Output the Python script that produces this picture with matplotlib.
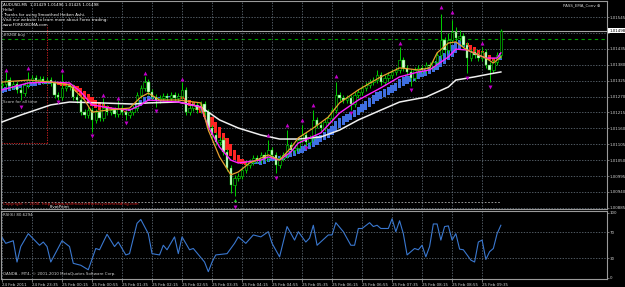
import numpy as np
import matplotlib
matplotlib.use("Agg")
import matplotlib.pyplot as plt

# AUDUSD M5 quotes in points above 1.00000 (1313 -> 1.01313)
open_pts = [1310, 1313, 1327, 1306, 1313, 1293, 1282, 1310, 1327, 1334,
            1327, 1331, 1324, 1327, 1317, 1275, 1268, 1300, 1306, 1303,
            1268, 1258, 1216, 1206, 1223, 1189, 1216, 1196, 1230, 1216,
            1223, 1210, 1230, 1216, 1206, 1216, 1230, 1275, 1300, 1320,
            1286, 1268, 1258, 1265, 1272, 1265, 1275, 1265, 1272, 1293,
            1216, 1230, 1241, 1223, 1244, 1216, 1161, 1137, 1113, 1120,
            1078, 1023, 964, 988, 995, 1016, 1033, 1043, 1057, 1050,
            1068, 1057, 1085, 1068, 1033, 1057, 1068, 1102, 1085, 1092,
            1120, 1137, 1113, 1127, 1189, 1172, 1161, 1182, 1196, 1223,
            1275, 1265, 1258, 1265, 1244, 1275, 1286, 1300, 1310, 1320,
            1327, 1345, 1320, 1334, 1345, 1355, 1362, 1396, 1369, 1355,
            1334, 1362, 1369, 1362, 1379, 1376, 1389, 1414, 1466, 1431,
            1466, 1493, 1473, 1479, 1448, 1403, 1424, 1414, 1403, 1424,
            1379, 1362, 1389, 1414]
close_pts = [1313, 1327, 1306, 1313, 1293, 1282, 1310, 1327, 1334, 1327,
             1331, 1324, 1327, 1317, 1275, 1268, 1300, 1306, 1303, 1268,
             1258, 1216, 1206, 1223, 1189, 1216, 1196, 1230, 1216, 1223,
             1210, 1230, 1216, 1206, 1216, 1230, 1275, 1300, 1320, 1286,
             1268, 1258, 1265, 1272, 1265, 1275, 1265, 1272, 1293, 1216,
             1230, 1241, 1223, 1244, 1216, 1161, 1137, 1113, 1120, 1078,
             1023, 964, 988, 995, 1016, 1033, 1043, 1057, 1050, 1068,
             1057, 1085, 1068, 1033, 1057, 1068, 1102, 1085, 1092, 1120,
             1137, 1113, 1127, 1189, 1172, 1161, 1182, 1196, 1223, 1275,
             1265, 1258, 1265, 1244, 1275, 1286, 1300, 1310, 1320, 1327,
             1345, 1320, 1334, 1345, 1355, 1362, 1396, 1369, 1355, 1334,
             1362, 1369, 1362, 1379, 1376, 1389, 1414, 1466, 1431, 1466,
             1493, 1473, 1479, 1448, 1403, 1424, 1414, 1403, 1424, 1379,
             1362, 1389, 1414, 1498]
high_pts = [1323, 1355, 1337, 1323, 1323, 1303, 1320, 1355, 1344, 1344,
            1341, 1341, 1337, 1337, 1327, 1285, 1348, 1316, 1316, 1313,
            1278, 1268, 1226, 1233, 1233, 1226, 1226, 1265, 1240, 1233,
            1233, 1258, 1240, 1226, 1226, 1240, 1285, 1310, 1341, 1330,
            1296, 1278, 1275, 1282, 1282, 1285, 1285, 1282, 1320, 1303,
            1240, 1251, 1251, 1254, 1254, 1226, 1171, 1147, 1130, 1130,
            1088, 1033, 998, 1005, 1026, 1043, 1053, 1067, 1067, 1078,
            1078, 1120, 1095, 1078, 1067, 1078, 1154, 1112, 1102, 1130,
            1172, 1147, 1137, 1223, 1199, 1182, 1192, 1206, 1233, 1320,
            1285, 1275, 1275, 1275, 1285, 1296, 1310, 1320, 1330, 1337,
            1362, 1355, 1344, 1355, 1365, 1372, 1441, 1406, 1379, 1365,
            1372, 1379, 1379, 1389, 1389, 1399, 1424, 1556, 1476, 1490,
            1535, 1510, 1500, 1489, 1458, 1434, 1434, 1424, 1441, 1434,
            1389, 1399, 1424, 1505]
low_pts = [1300, 1303, 1296, 1296, 1283, 1258, 1272, 1300, 1317, 1317,
           1317, 1314, 1314, 1307, 1265, 1258, 1258, 1290, 1293, 1258,
           1248, 1206, 1196, 1196, 1147, 1179, 1186, 1186, 1206, 1206,
           1200, 1200, 1206, 1189, 1196, 1206, 1220, 1265, 1290, 1276,
           1258, 1234, 1248, 1255, 1255, 1255, 1255, 1255, 1262, 1206,
           1206, 1220, 1213, 1213, 1206, 1151, 1127, 1103, 1103, 1068,
           1013, 936, 926, 978, 985, 1006, 1023, 1033, 1040, 1040,
           1047, 1047, 1058, 1005, 1023, 1047, 1058, 1075, 1075, 1082,
           1110, 1099, 1103, 1117, 1162, 1151, 1151, 1172, 1186, 1213,
           1255, 1248, 1248, 1223, 1234, 1265, 1276, 1290, 1300, 1310,
           1317, 1310, 1310, 1324, 1335, 1345, 1352, 1359, 1345, 1306,
           1324, 1352, 1352, 1352, 1366, 1366, 1379, 1404, 1421, 1421,
           1456, 1463, 1463, 1438, 1351, 1393, 1404, 1393, 1393, 1369,
           1320, 1352, 1379, 1404]

# smoothed heiken ashi open / close
ha_open = [1283, 1286, 1290, 1293,
           1296, 1298, 1300, 1303, 1306, 1308, 1310, 1312, 1313, 1314,
           1322, 1320, 1318, 1316, 1314, 1310, 1306, 1300, 1290, 1280, 1270, 1258, 1250,
           1243, 1238, 1233, 1230, 1226, 1224, 1221, 1219,
           1222, 1228, 1236, 1246, 1255, 1260, 1264, 1266, 1267, 1268, 1268, 1269, 1270,
           1272, 1265, 1258, 1250, 1242, 1235, 1226, 1216, 1200, 1183, 1165, 1145, 1125,
           1105, 1085, 1068, 1055, 1046, 1040,
           1036, 1038,
           1033, 1038, 1042, 1046, 1048, 1050, 1052, 1056, 1060, 1064, 1070, 1076, 1082,
           1088, 1095, 1104, 1112, 1120, 1128, 1138, 1150, 1162, 1172, 1182, 1190, 1198,
           1206, 1215, 1225, 1235, 1245, 1255, 1262, 1268, 1275, 1282, 1290, 1298, 1306,
           1314, 1320, 1325, 1330, 1336, 1342, 1348, 1354, 1362, 1372, 1384, 1396, 1408,
           1420, 1430, 1442,
           1456, 1448, 1440, 1432, 1426, 1420, 1412, 1405, 1400, 1398]
ha_close = [1300, 1303, 1306, 1308,
            1310, 1310, 1313, 1317, 1320, 1320, 1322, 1322, 1323, 1322,
            1315, 1310, 1308, 1306, 1303, 1296, 1286, 1272, 1260, 1250, 1236, 1230, 1225,
            1230, 1228, 1226, 1224, 1222, 1220, 1218, 1226,
            1232, 1245, 1258, 1268, 1272, 1270, 1270, 1270, 1270, 1271, 1272, 1271, 1273,
            1262, 1245, 1238, 1230, 1222, 1212, 1200, 1182, 1165, 1145, 1125, 1105, 1085,
            1065, 1050, 1040, 1036, 1033, 1032,
            1040, 1044,
            1057, 1058, 1062, 1064, 1062, 1064, 1068, 1075, 1080, 1085, 1092, 1100, 1104,
            1110, 1125, 1132, 1138, 1146, 1156, 1168, 1185, 1196, 1203, 1210, 1215, 1225,
            1235, 1245, 1256, 1266, 1275, 1285, 1290, 1296, 1303, 1310, 1318, 1330, 1336,
            1340, 1342, 1348, 1355, 1360, 1366, 1372, 1380, 1392, 1410, 1422, 1434, 1448,
            1458, 1466, 1470,
            1440, 1430, 1424, 1416, 1412, 1404, 1396, 1394, 1395, 1420]

# moving averages, read at sample bars
white_bar = [0, 5, 13, 18, 26, 35, 39, 47, 53, 58, 63, 69, 74, 79, 85, 90, 95,
             101, 106, 113, 119, 121, 126, 130, 133]
white_ma = [1182, 1206, 1241, 1251, 1248, 1244, 1248, 1251, 1234, 1189, 1161,
            1137, 1123, 1123, 1130, 1154, 1189, 1223, 1251, 1268, 1303, 1327,
            1338, 1348, 1355]
magenta_bar = [0, 7, 13, 18, 21, 24, 29, 34, 37, 39, 47, 53, 55, 58, 61, 63, 69,
               71, 74, 77, 79, 85, 90, 95, 101, 106, 111, 114, 119, 121, 124,
               127, 129, 132, 133]
magenta_ma = [1293, 1317, 1320, 1317, 1286, 1241, 1230, 1223, 1241, 1258, 1251,
              1234, 1165, 1095, 1050, 1040, 1050, 1061, 1050, 1078, 1109, 1144,
              1213, 1258, 1300, 1338, 1355, 1362, 1407, 1434, 1431, 1414, 1403,
              1403, 1421]
orange_bar = [0, 7, 13, 18, 22, 24, 28, 34, 37, 39, 42, 47, 53, 55, 58, 61, 63,
              66, 71, 74, 77, 79, 83, 87, 90, 95, 101, 106, 111, 114, 116, 119,
              121, 124, 127, 129, 131, 133]
orange_ma = [1320, 1327, 1320, 1310, 1258, 1216, 1223, 1230, 1268, 1282, 1258,
             1258, 1248, 1154, 1061, 999, 1009, 1040, 1068, 1050, 1092, 1127,
             1161, 1199, 1248, 1293, 1338, 1369, 1362, 1369, 1421, 1455, 1459,
             1431, 1414, 1403, 1386, 1407]

# fractal arrows
up_bar = [1, 7, 16, 27, 31, 38, 48, 71, 76, 80, 83, 89, 106, 117, 120, 128]
up_pts = [1362, 1369, 1362, 1275, 1265, 1351, 1331, 1137, 1172, 1189, 1241,
          1341, 1455, 1580, 1562, 1455]
down_bar = [5, 15, 24, 33, 41, 62, 73, 81, 93, 109, 124, 130]
down_pts = [1234, 1251, 1133, 1178, 1220, 888, 988, 1092, 1213, 1293, 1334, 1303]

# RSI(6)
rsi_bar = [0, 1, 3, 4, 5, 7, 10, 11, 12, 13, 16, 18, 19, 21, 23, 25, 26, 28, 30,
           31, 33, 34, 36, 37, 39, 40, 42, 43, 44, 46, 47, 48, 50, 51, 54, 55,
           56, 57, 60, 62, 63, 65, 67, 69, 71, 72, 74, 76, 78, 79, 81, 82, 83,
           84, 87, 88, 89, 91, 93, 94, 95, 96, 98, 99, 100, 101, 103, 104, 105,
           106, 107, 108, 110, 111, 112, 113, 114, 115, 116, 117, 118, 119, 120,
           121, 122, 123, 125, 126, 127, 128, 129, 130, 131, 132, 133]
rsi_val = [62, 53, 57, 24, 48, 68, 50, 55, 48, 24, 57, 48, 22, 19, 12, 45, 43,
           67, 48, 55, 35, 37, 84, 90, 68, 37, 35, 50, 43, 63, 37, 63, 43, 45,
           24, 9, 24, 35, 37, 53, 63, 53, 66, 63, 71, 53, 32, 79, 58, 71, 55,
           61, 81, 50, 66, 66, 85, 71, 50, 50, 76, 76, 85, 79, 81, 76, 76, 91,
           71, 88, 68, 35, 45, 43, 50, 32, 48, 83, 83, 58, 79, 80, 58, 68, 44,
           43, 27, 24, 55, 58, 28, 40, 45, 68, 81]

price_ticks = [1.01545, 1.01490, 1.01435, 1.01380, 1.01325, 1.01270, 1.01215,
               1.01160, 1.01105, 1.01050, 1.00995, 1.00940, 1.00885]
time_labels = ["24 Feb 2011", "24 Feb 23:35", "25 Feb 00:15", "25 Feb 00:55",
               "25 Feb 01:35", "25 Feb 02:15", "25 Feb 02:55", "25 Feb 03:35",
               "25 Feb 04:15", "25 Feb 04:55", "25 Feb 05:35", "25 Feb 06:15",
               "25 Feb 06:55", "25 Feb 07:35", "25 Feb 08:15", "25 Feb 08:55",
               "25 Feb 09:35"]
last_price = 1.01498
order_price = 1.01469
pivot_price = 1.00905


def to_price(pts):
    return 1 + np.asarray(pts, dtype=float) / 1e5


W, H = 625, 287
FS = 2.9
grid_kw = dict(color='#6f7c88', linestyle=(0, (2, 2)), linewidth=0.5)
frame = '#9a9a9a'


def box(x0, y0, x1, y1):
    return [x0 / W, 1 - y1 / H, (x1 - x0) / W, (y1 - y0) / H]


def ftext(x, y, s, color='white', **kw):
    fig.text(x / W, 1 - y / H, s, color=color, fontsize=FS, va='center', ha='left', **kw)


fig = plt.figure(figsize=(W / 100, H / 100), dpi=100, facecolor='black')
ax = fig.add_axes(box(1, 1, 607, 209))
ax_rsi = fig.add_axes(box(1, 211, 607, 279))

n = len(close_pts)
x = np.arange(n)
o, c = to_price(open_pts), to_price(close_pts)
hi, lo = to_price(high_pts), to_price(low_pts)
hao, hac = to_price(ha_open), to_price(ha_close)
xlim = (-0.27, 161.3)
time_pos = np.arange(len(time_labels)) * 8

for a in (ax, ax_rsi):
    a.set_facecolor('black')
    a.set_xlim(*xlim)
    for s in a.spines.values():
        s.set_color(frame)
        s.set_linewidth(0.8)
    a.yaxis.tick_right()
    a.tick_params(axis='y', colors=frame, labelcolor='#d0d0d0', labelsize=FS,
                  length=1.5, width=0.5, pad=0.6)
    a.set_xticks(time_pos)
    a.grid(True, **grid_kw)

ax.tick_params(axis='x', length=0, labelbottom=False)
ax.set_ylim(to_price(880.9), to_price(1600.5))
ax.set_yticks(price_ticks)
ax.set_yticklabels(["" if abs(p - 1.01490) < 1e-6 else f"{p:.5f}" for p in price_ticks])

# heiken ashi bars
ha_col = np.where(hac >= hao, '#3f6fe0', '#ff2424')
ax.bar(x, np.abs(hac - hao), bottom=np.minimum(hao, hac), width=0.85,
       color=ha_col, linewidth=0, zorder=2)

# candles
wick = '#00d000'
ax.vlines(x, lo, hi, color=wick, linewidth=0.7, zorder=3)
bear = c < o
body_h = np.maximum(np.abs(c - o), 0.00002)
ax.bar(x[bear], body_h[bear], bottom=np.minimum(o, c)[bear], width=0.65,
       color='#dcffdc', edgecolor=wick, linewidth=0.3, zorder=4)
ax.bar(x[~bear], body_h[~bear], bottom=np.minimum(o, c)[~bear], width=0.65,
       color='black', edgecolor=wick, linewidth=0.45, zorder=4)

# averages
ax.plot(white_bar, to_price(white_ma), color='#f0f0f0', linewidth=1.1, zorder=5)
ax.plot(magenta_bar, to_price(magenta_ma), color='#ff20ff', linewidth=1.0, zorder=6)
ax.plot(orange_bar, to_price(orange_ma), color='#e8a030', linewidth=0.9, zorder=6)

# fractals
ax.scatter(up_bar, to_price(up_pts), marker='^', s=8, color='#c000c8', linewidths=0, zorder=7)
ax.scatter(down_bar, to_price(down_pts), marker='v', s=8, color='#c000c8', linewidths=0, zorder=7)
ax.scatter([62], [to_price(912)], marker='^', s=5, color='#20d020', linewidths=0, zorder=7)

# horizontal levels
ax.axhline(last_price, color='#a8a8a8', linewidth=0.8, zorder=1)
ax.axhline(order_price, color='#00a000', linestyle=(0, (3, 3)), linewidth=0.8, zorder=1)
ax.hlines(pivot_price, xlim[0], 133, color='#b0b0b0', linestyle=(0, (2, 2)), linewidth=0.6, zorder=1)
ax.vlines(12, to_price(1109), to_price(1518), color='#e02020', linestyle=(0, (1.5, 1.5)), linewidth=0.6, zorder=1)
ax.hlines(to_price(1109), xlim[0], 12, color='#e02020', linestyle=(0, (1.5, 1.5)), linewidth=0.6, zorder=1)
ax.annotate(f"{last_price:.5f}", xy=(1.0, last_price), xycoords=('axes fraction', 'data'),
            xytext=(1.5, 0), textcoords='offset points', va='center', ha='left',
            fontsize=FS, color='black',
            bbox=dict(boxstyle='square,pad=0.15', fc='white', ec='none'))

# RSI panel
ax_rsi.plot(rsi_bar, rsi_val, color='#3a78d0', linewidth=0.8)
ax_rsi.set_ylim(-2.3, 103.1)
ax_rsi.set_yticks([0, 30, 70, 100])
ax_rsi.set_yticklabels(["0", "30", "70", "100"])
ax_rsi.grid(False, axis='y')
for lvl in (30, 70):
    ax_rsi.axhline(lvl, **grid_kw)
ax_rsi.set_xticklabels(time_labels)
ax_rsi.tick_params(axis='x', colors=frame, labelcolor='#d0d0d0', labelsize=FS,
                   length=2, width=0.5, pad=1)
for lab in ax_rsi.get_xticklabels():
    lab.set_horizontalalignment('left')

# chart texts
ftext(3, 5, "AUDUSD,M5  1.01429 1.01496 1.01425 1.01498")
ftext(3, 10, "Hello!")
ftext(3, 15, "Thanks for using Smoothed Heiken Ashi.")
ftext(3, 20, "Visit our website to learn more about Forex trading:")
ftext(3, 25, "www.FOREXBOMA.com")
ftext(3, 35, "#9268 buy", color='#c8c8c8')
ftext(3, 102, "Score for all time", color='#c8c8c8')
ftext(563, 5, "PASS_EMA_Conv \u2295", color='#d0d0d0')
ftext(3, 204, "Copyright \u00a9 2008, http://www.wolfmastertforexsystemtrading.com", color='#e02020')
ftext(50, 207, "PivotPoint")
ftext(3, 215, "RSI(6) 80.6294", color='#d0d0d0')
ftext(3, 274, "OANDA - MT4, \u00a9 2001-2010 MetaQuotes Software Corp.", color='#d0d0d0')

fig.savefig("out.png", dpi=100, facecolor='black')
